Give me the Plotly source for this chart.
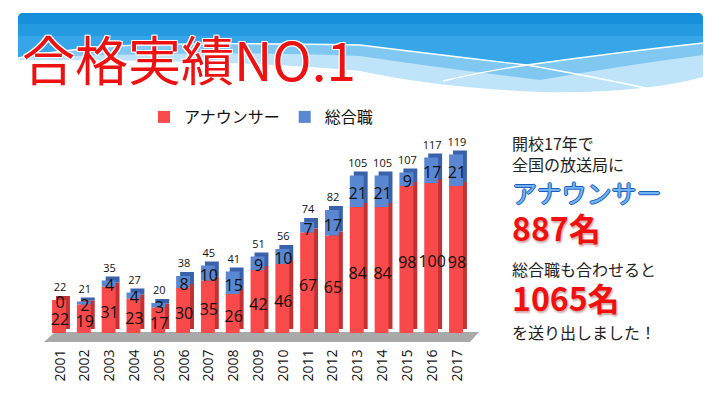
import plotly.graph_objects as go

# ---------------- data ----------------
years = ["2001", "2002", "2003", "2004", "2005", "2006", "2007", "2008", "2009",
         "2010", "2011", "2012", "2013", "2014", "2015", "2016", "2017"]
announcer = [22, 19, 31, 23, 17, 30, 35, 26, 42, 46, 67, 65, 84, 84, 98, 100, 98]
general = [0, 2, 4, 4, 3, 8, 10, 15, 9, 10, 7, 17, 21, 21, 9, 17, 21]
totals = [a + g for a, g in zip(announcer, general)]

W, H = 720, 405
JP = "Noto Sans CJK JP"


def px(x):
    return x / W


def py(y):
    return 1 - y / H


def P(x, y):
    return f"{px(x):.5f},{py(y):.5f}"


depth = 2.6  # 3D depth in data units (vertical)
RED, RED_SIDE = "#f84a4a", "#c23232"
BLUE, BLUE_SIDE = "#5a87d2", "#3a62ab"

fig = go.Figure()

# side faces
fig.add_trace(go.Bar(x=years, y=announcer, base=[depth] * len(years),
                     width=0.56, offset=-0.16, marker=dict(color=RED_SIDE, line=dict(width=0)),
                     showlegend=False, hoverinfo="skip"))
fig.add_trace(go.Bar(x=years, y=general, base=[a + depth for a in announcer],
                     width=0.56, offset=-0.16, marker=dict(color=BLUE_SIDE, line=dict(width=0)),
                     showlegend=False, hoverinfo="skip"))
# front faces
fig.add_trace(go.Bar(x=years, y=announcer, base=[0] * len(years), name="アナウンサー",
                     width=0.56, offset=-0.32, marker=dict(color=RED, line=dict(width=0)),
                     hoverinfo="skip"))
fig.add_trace(go.Bar(x=years, y=general, base=announcer, name="総合職",
                     width=0.56, offset=-0.32, marker=dict(color=BLUE, line=dict(width=0)),
                     hoverinfo="skip"))

# value labels
fig.add_trace(go.Scatter(x=years, y=[a / 2 - 3 for a in announcer], mode="text",
                         text=[str(v) for v in announcer],
                         textfont=dict(family="Open Sans", size=16, color="#111"),
                         showlegend=False, hoverinfo="skip"))
fig.add_trace(go.Scatter(x=years, y=[a + g / 2 - 2.5 for a, g in zip(announcer, general)], mode="text",
                         text=[str(v) for v in general],
                         textfont=dict(family="Open Sans", size=16, color="#111"),
                         showlegend=False, hoverinfo="skip"))
fig.add_trace(go.Scatter(x=years, y=[t + 4 for t in totals], mode="text",
                         text=[str(v) for v in totals], textposition="top center",
                         textfont=dict(family="Open Sans", size=11, color="#111"),
                         showlegend=False, hoverinfo="skip"))

# ---------------- decorative banner ----------------
shapes = []
banner_light = ("M " + P(18, 60) + " L " + P(18, 19) + " Q " + P(18, 13) + " " + P(24, 13) +
                " L " + P(697, 13) + " Q " + P(703, 13) + " " + P(703, 19) +
                " L " + P(703, 77) + " Q " + P(640, 94) + " " + P(540, 92) +
                " Q " + P(440, 88) + " " + P(360, 71) + " Q " + P(250, 60) + " " + P(18, 60) + " Z")
shapes.append(dict(type="path", path=banner_light, xref="paper", yref="paper",
                   fillcolor="#bfe4fa", line=dict(width=0), layer="below"))
banner_mid = ("M " + P(18, 58) + " L " + P(18, 19) + " Q " + P(18, 13) + " " + P(24, 13) +
              " L " + P(697, 13) + " Q " + P(703, 13) + " " + P(703, 19) +
              " L " + P(703, 55) + " Q " + P(620, 66) + " " + P(540, 80) +
              " Q " + P(440, 68) + " " + P(360, 56) + " Q " + P(200, 50) + " " + P(18, 58) + " Z")
shapes.append(dict(type="path", path=banner_mid, xref="paper", yref="paper",
                   fillcolor="#80c8f2", line=dict(width=0), layer="below"))
banner_dark = ("M " + P(18, 58) + " L " + P(18, 19) + " Q " + P(18, 13) + " " + P(24, 13) +
               " L " + P(697, 13) + " Q " + P(703, 13) + " " + P(703, 19) +
               " L " + P(703, 43) + " Q " + P(620, 52) + " " + P(527, 65) +
               " Q " + P(440, 55) + " " + P(360, 45) + " Q " + P(200, 42) + " " + P(117, 46) +
               " Q " + P(60, 50) + " " + P(18, 58) + " Z")
shapes.append(dict(type="path", path=banner_dark, xref="paper", yref="paper",
                   fillcolor="#36a6e8", line=dict(width=0), layer="below"))
band1 = ("M " + P(18, 36) + " L " + P(18, 19) + " Q " + P(18, 13) + " " + P(24, 13) +
         " L " + P(697, 13) + " Q " + P(703, 13) + " " + P(703, 19) + " L " + P(703, 36) + " Z")
shapes.append(dict(type="path", path=band1, xref="paper", yref="paper",
                   fillcolor="#259ae1", line=dict(width=0), layer="below"))
band2 = ("M " + P(18, 24) + " L " + P(18, 19) + " Q " + P(18, 13) + " " + P(24, 13) +
         " L " + P(697, 13) + " Q " + P(703, 13) + " " + P(703, 19) + " L " + P(703, 24) + " Z")
shapes.append(dict(type="path", path=band2, xref="paper", yref="paper",
                   fillcolor="#168ed9", line=dict(width=0), layer="below"))
line1 = ("M " + P(18, 58) + " Q " + P(60, 50) + " " + P(117, 46) + " Q " + P(200, 42) + " " +
         P(360, 45) + " Q " + P(440, 55) + " " + P(527, 65) + " Q " + P(600, 78) + " " + P(650, 89))
shapes.append(dict(type="path", path=line1, xref="paper", yref="paper",
                   line=dict(color="white", width=1.3), layer="below"))
line2 = ("M " + P(443, 81) + " Q " + P(480, 72) + " " + P(527, 65) + " Q " + P(620, 52) + " " +
         P(703, 43))
shapes.append(dict(type="path", path=line2, xref="paper", yref="paper",
                   line=dict(color="white", width=1.3), layer="below"))

# floor of the 3D chart
floor = ("M " + P(44, 342) + " L " + P(55, 332) + " L " + P(479, 332) + " L " + P(470, 342) + " Z")
shapes.append(dict(type="path", path=floor, xref="paper", yref="paper",
                   fillcolor="#a9a9a9", line=dict(width=0), layer="below"))

# ---------------- annotations ----------------
ann = []
ann.append(dict(text="合格実績NO.1", x=px(20), y=py(58), xref="paper", yref="paper",
                xanchor="left", yanchor="middle", showarrow=False,
                font=dict(family=JP, size=53, color="#ee1111",
                          shadow="1px 1px 0 #ffffff, -1px -1px 0 #ffffff, 1px -1px 0 #ffffff, -1px 1px 0 #ffffff")))

right_x = px(510)
ann.append(dict(text="開校17年で<br>全国の放送局に", x=right_x, y=py(154), xref="paper", yref="paper",
                xanchor="left", yanchor="middle", align="left", showarrow=False,
                font=dict(family=JP, size=16, color="#222")))
ann.append(dict(text="アナウンサー", x=right_x, y=py(192), xref="paper", yref="paper",
                xanchor="left", yanchor="middle", showarrow=False,
                font=dict(family=JP, size=25, color="#6fb4f4",
                          shadow="1px 0 0 #1f5cb8, -1px 0 0 #1f5cb8, 0 1px 0 #1f5cb8, 0 -1px 0 #1f5cb8")))
ann.append(dict(text="<b>887名</b>", x=right_x, y=py(227), xref="paper", yref="paper",
                xanchor="left", yanchor="middle", showarrow=False,
                font=dict(family=JP, size=32, color="#f01010",
                          shadow="1px 2px 2px rgba(120,0,0,0.35)")))
ann.append(dict(text="総合職も合わせると", x=right_x, y=py(269), xref="paper", yref="paper",
                xanchor="left", yanchor="middle", showarrow=False,
                font=dict(family=JP, size=16, color="#222")))
ann.append(dict(text="<b>1065名</b>", x=right_x, y=py(297), xref="paper", yref="paper",
                xanchor="left", yanchor="middle", showarrow=False,
                font=dict(family=JP, size=32, color="#f01010",
                          shadow="1px 2px 2px rgba(120,0,0,0.35)")))
ann.append(dict(text="を送り出しました！", x=right_x, y=py(332), xref="paper", yref="paper",
                xanchor="left", yanchor="middle", showarrow=False,
                font=dict(family=JP, size=16, color="#222")))

fig.update_layout(
    width=W, height=H,
    margin=dict(l=0, r=0, t=0, b=0),
    paper_bgcolor="white", plot_bgcolor="rgba(0,0,0,0)",
    barmode="overlay",
    showlegend=True,
    legend=dict(orientation="h", x=px(144), y=py(117), xanchor="left", yanchor="middle",
                font=dict(family=JP, size=16, color="#111"), bgcolor="rgba(0,0,0,0)",
                itemclick=False, itemdoubleclick=False),
    xaxis=dict(domain=[px(47.6), px(469.4)], range=[-0.5, 16.5], type="category",
               showgrid=False, zeroline=False, showline=False,
               ticks="outside", ticklen=10, tickcolor="rgba(0,0,0,0)",
               tickangle=-90, tickfont=dict(family="Open Sans", size=14, color="#111")),
    yaxis=dict(domain=[py(333), py(138)], range=[0, 130], visible=False),
    shapes=shapes,
    annotations=ann,
)

fig.write_html("out.html", config={"displayModeBar": False},
               post_script="document.body.style.margin='0';document.body.style.padding='0';")
